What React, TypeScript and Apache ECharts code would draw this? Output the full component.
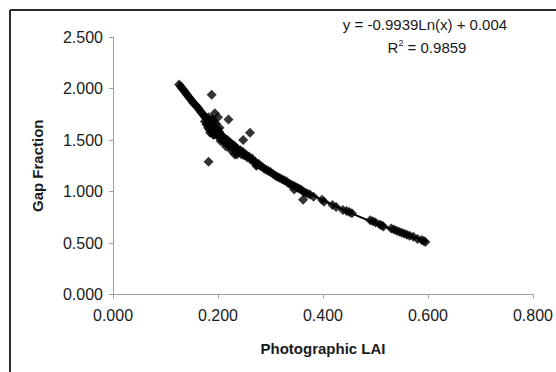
import React, { useEffect, useRef } from "react";
import * as echarts from "echarts";

// Scatter observations: [Photographic LAI, Gap Fraction]
const lai: number[] = [
  0.126, 0.129, 0.132, 0.135, 0.138, 0.141, 0.144, 0.147, 0.150, 0.153,
  0.156, 0.159, 0.162, 0.165, 0.168, 0.171, 0.174, 0.177, 0.178, 0.180,
  0.181, 0.183, 0.184, 0.186, 0.187, 0.189, 0.190, 0.192, 0.193, 0.195,
  0.197, 0.199, 0.200, 0.202, 0.204, 0.206, 0.208, 0.210, 0.212, 0.214,
  0.216, 0.218, 0.220, 0.222, 0.224, 0.226, 0.228, 0.230, 0.232, 0.234,
  0.236, 0.238, 0.240, 0.243, 0.245, 0.248, 0.250, 0.253, 0.256, 0.259,
  0.262, 0.265, 0.268, 0.271, 0.274, 0.277, 0.280, 0.284, 0.288, 0.292,
  0.296, 0.300, 0.305, 0.310, 0.314, 0.318, 0.322, 0.326, 0.330, 0.334,
  0.338, 0.342, 0.346, 0.350, 0.354, 0.358, 0.362, 0.366, 0.370, 0.375,
  0.382, 0.398, 0.402, 0.418, 0.425, 0.438, 0.445, 0.450, 0.455, 0.490,
  0.495, 0.500, 0.508, 0.512, 0.515, 0.530, 0.535, 0.540, 0.545, 0.550,
  0.555, 0.560, 0.565, 0.572, 0.580, 0.588, 0.592, 0.595,
  0.175, 0.182, 0.190, 0.194, 0.196, 0.203, 0.185, 0.205, 0.215, 0.225,
  0.232, 0.175,
  0.188, 0.182, 0.220, 0.261, 0.200, 0.248, 0.236, 0.362, 0.345, 0.191,
  0.210, 0.273
];
const gapFraction: number[] = [
  2.04, 2.02, 2.00, 1.98, 1.96, 1.94, 1.92, 1.90, 1.88, 1.86,
  1.845, 1.83, 1.81, 1.79, 1.77, 1.75, 1.73, 1.71, 1.65, 1.68,
  1.62, 1.66, 1.60, 1.64, 1.70, 1.58, 1.62, 1.67, 1.55, 1.60,
  1.57, 1.61, 1.54, 1.58, 1.52, 1.55, 1.50, 1.53, 1.48, 1.51,
  1.47, 1.50, 1.45, 1.48, 1.44, 1.46, 1.42, 1.45, 1.41, 1.43,
  1.39, 1.41, 1.38, 1.40, 1.36, 1.38, 1.35, 1.36, 1.33, 1.34,
  1.31, 1.32, 1.29, 1.29, 1.26, 1.27, 1.25, 1.24, 1.22, 1.21,
  1.20, 1.19, 1.17, 1.15, 1.14, 1.13, 1.12, 1.11, 1.10, 1.08,
  1.07, 1.06, 1.05, 1.04, 1.03, 1.02, 1.00, 0.99, 0.98, 0.97,
  0.95, 0.92, 0.90, 0.87, 0.85, 0.82, 0.81, 0.80, 0.79, 0.72,
  0.71, 0.70, 0.68, 0.67, 0.66, 0.64, 0.63, 0.62, 0.61, 0.60,
  0.59, 0.58, 0.57, 0.56, 0.54, 0.53, 0.52, 0.51,
  1.73, 1.72, 1.70, 1.76, 1.66, 1.62, 1.57, 1.49, 1.44, 1.40,
  1.36, 1.68,
  1.94, 1.29, 1.70, 1.57, 1.72, 1.50, 1.36, 0.92, 1.02, 1.55,
  1.50, 1.25
];

// Logarithmic trend line points (y = -0.9939 Ln(x) + 0.004), as read
const trendX: number[] = [0.126, 0.14, 0.16, 0.18, 0.2, 0.22, 0.25, 0.28, 0.32, 0.36, 0.4, 0.45, 0.5, 0.55, 0.595];
const trendY: number[] = [2.06, 1.958, 1.826, 1.708, 1.604, 1.509, 1.382, 1.269, 1.136, 1.019, 0.915, 0.798, 0.693, 0.598, 0.520];

const xTicks = { min: 0, max: 0.8, interval: 0.2 };
const yTicks = { min: 0, max: 2.5, interval: 0.5 };

const equationText = "y = -0.9939Ln(x) + 0.004";
const r2Value = "0.9859";

const FONT = "'Liberation Sans', Arial, Helvetica, sans-serif";

export default function App() {
  const ref = useRef<HTMLDivElement>(null);

  useEffect(() => {
    document.body.style.margin = "0";
    if (!ref.current) return;
    const chart = echarts.init(ref.current, null, { renderer: "svg" });
    const points = lai.map((x, i) => [x, gapFraction[i]]);
    const trend = trendX.map((x, i) => [x, trendY[i]]);

    chart.setOption({
      animation: false,
      backgroundColor: "#ffffff",
      grid: { left: 113, right: 23, top: 37, bottom: 77.5, containLabel: false },
      xAxis: {
        type: "value",
        min: xTicks.min,
        max: xTicks.max,
        interval: xTicks.interval,
        name: "Photographic LAI",
        nameLocation: "middle",
        nameGap: 46,
        nameTextStyle: { fontFamily: FONT, fontSize: 15, fontWeight: "bold", color: "#1a1a1a" },
        axisLine: { show: true, lineStyle: { color: "#a0a0a0", width: 1 } },
        axisTick: { show: true, inside: false, length: 4, lineStyle: { color: "#a0a0a0" } },
        axisLabel: {
          fontFamily: FONT,
          fontSize: 16,
          color: "#1a1a1a",
          margin: 13,
          formatter: (v: number) => v.toFixed(3),
        },
        splitLine: { show: false },
      },
      yAxis: {
        type: "value",
        min: yTicks.min,
        max: yTicks.max,
        interval: yTicks.interval,
        name: "Gap Fraction",
        nameLocation: "middle",
        nameGap: 68,
        nameRotate: 90,
        nameTextStyle: { fontFamily: FONT, fontSize: 15, fontWeight: "bold", color: "#1a1a1a" },
        axisLine: { show: true, lineStyle: { color: "#a0a0a0", width: 1 } },
        axisTick: { show: true, inside: false, length: 4, lineStyle: { color: "#a0a0a0" } },
        axisLabel: {
          fontFamily: FONT,
          fontSize: 16,
          color: "#1a1a1a",
          margin: 10,
          formatter: (v: number) => v.toFixed(3),
        },
        splitLine: { show: false },
      },
      series: [
        {
          type: "line",
          data: trend,
          smooth: true,
          showSymbol: false,
          symbol: "none",
          lineStyle: { color: "#000000", width: 2 },
          z: 1,
        },
        {
          type: "scatter",
          data: points,
          symbol: "diamond",
          symbolSize: 10,
          itemStyle: { color: "#000000" },
          z: 2,
        },
      ],
      graphic: [
        {
          type: "line",
          shape: { x1: 10, y1: 10, x2: 556, y2: 10 },
          style: { stroke: "#2a2a2a", lineWidth: 2 },
        },
        {
          type: "line",
          shape: { x1: 10, y1: 10, x2: 10, y2: 372 },
          style: { stroke: "#2a2a2a", lineWidth: 2 },
        },
        {
          type: "text",
          x: 425,
          y: 24,
          style: {
            text: equationText,
            fontFamily: FONT,
            fontSize: 15,
            fill: "#1a1a1a",
            align: "center",
            verticalAlign: "middle",
          },
        },
        {
          type: "text",
          x: 427,
          y: 47,
          style: {
            text: "R{sup|2} = " + r2Value,
            fontFamily: FONT,
            fontSize: 15,
            fill: "#1a1a1a",
            align: "center",
            verticalAlign: "middle",
            rich: {
              sup: { fontSize: 9, fontFamily: FONT, fill: "#1a1a1a", verticalAlign: "top", padding: [0, 0, 8, 0] },
            },
          },
        },
      ],
    });

    return () => chart.dispose();
  }, []);

  return (
    <div
      ref={ref}
      style={{ position: "absolute", left: 0, top: 0, width: 556, height: 372 }}
    />
  );
}
